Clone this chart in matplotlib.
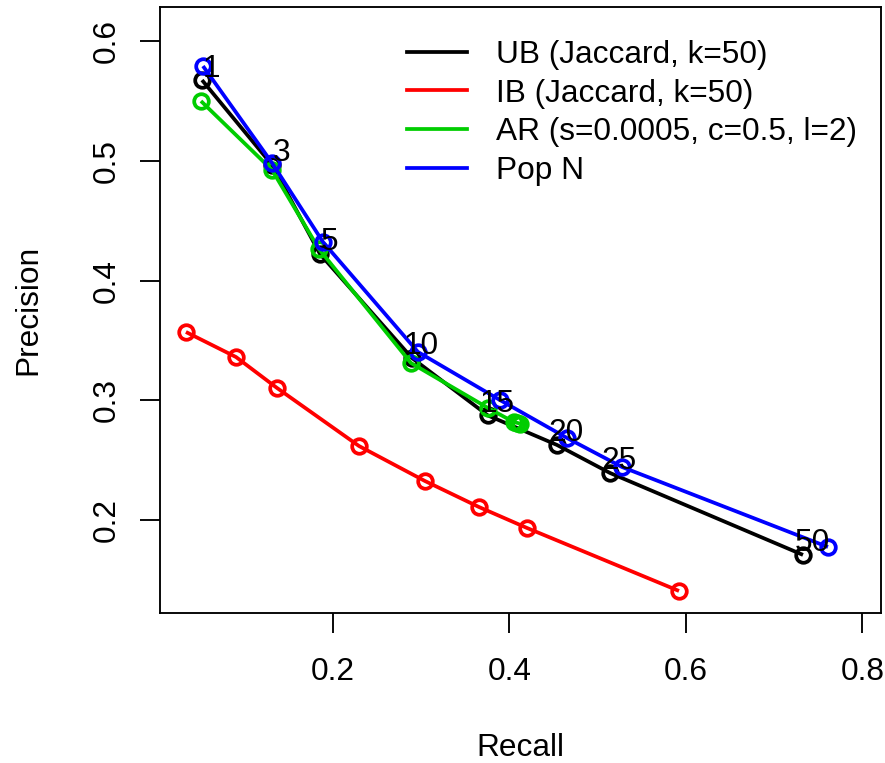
import matplotlib
matplotlib.use("Agg")
import matplotlib.pyplot as plt

plt.rcParams['font.family'] = ['Liberation Sans', 'DejaVu Sans']

# Data
cutoffs = ["1", "3", "5", "10", "15", "20", "25", "50"]

ub_recall = [0.0516, 0.131, 0.1853, 0.2895, 0.3756, 0.4538, 0.5139, 0.7326]
ub_prec = [0.5674, 0.4965, 0.4222, 0.3354, 0.2874, 0.2628, 0.2394, 0.1710]

ib_recall = [0.0334, 0.0901, 0.1365, 0.2295, 0.3042, 0.3654, 0.4198, 0.5921]
ib_prec = [0.3571, 0.3362, 0.3104, 0.2619, 0.2327, 0.2110, 0.1935, 0.1409]

ar_recall = [0.0504, 0.131, 0.1841, 0.2884, 0.3756, 0.405, 0.409, 0.412]
ar_prec = [0.5499, 0.4923, 0.4264, 0.3312, 0.2937, 0.2818, 0.2812, 0.2806]

pop_recall = [0.0527, 0.131, 0.1887, 0.2963, 0.3892, 0.4652, 0.5275, 0.7609]
pop_prec = [0.5791, 0.4982, 0.4322, 0.3404, 0.3003, 0.2686, 0.2444, 0.1776]

series_names = ["UB (Jaccard, k=50)", "IB (Jaccard, k=50)",
                "AR (s=0.0005, c=0.5, l=2)", "Pop N"]
series_colors = ["#000000", "#FF0000", "#00CD00", "#0000FF"]

xticks = [0.2, 0.4, 0.6, 0.8]
yticks = [0.2, 0.3, 0.4, 0.5, 0.6]

W, H = 885, 763
fig = plt.figure(figsize=(W / 100, H / 100), dpi=100)
ax = fig.add_axes([160 / W, 1 - 613 / H, (881 - 160) / W, (613 - 7) / H])

FS = 22.8
LW = 2.7
MS = 10.5

data = [(ub_recall, ub_prec), (ib_recall, ib_prec),
        (ar_recall, ar_prec), (pop_recall, pop_prec)]
handles = []
for (xs, ys), name, col in zip(data, series_names, series_colors):
    ax.plot(xs, ys, color=col, lw=LW, marker='o', ms=MS, mew=LW,
            mfc='none', mec=col, solid_capstyle='butt', zorder=3)
    h, = ax.plot([], [], color=col, lw=LW, label=name)
    handles.append(h)

for x, y, lab in zip(ub_recall, ub_prec, cutoffs):
    ax.annotate(lab, (x, y), xytext=(6.8, 8.3), textcoords='offset points',
                ha='center', va='center', fontsize=FS, color='black', zorder=5)

ax.set_xlim(0.0040, 0.821)
ax.set_ylim(0.1225, 0.6284)
ax.set_xticks(xticks)
ax.set_xticklabels([f"{v:.1f}" for v in xticks])
ax.set_yticks(yticks)
ax.set_yticklabels([f"{v:.1f}" for v in yticks], rotation=90, va='center')

for s in ax.spines.values():
    s.set_linewidth(1.35)
ax.tick_params(axis='both', direction='out', length=14.4, width=1.35,
               labelsize=FS)
ax.tick_params(axis='x', pad=17)
ax.tick_params(axis='y', pad=13)

fig.text(520.5 / W, 1 - 748 / H, "Recall", ha='center', va='center', fontsize=FS)
fig.text(28 / W, 1 - 310 / H, "Precision", ha='center', va='center',
         fontsize=FS, rotation=90)

leg = ax.legend(handles=handles, loc='upper left',
                bbox_to_anchor=(407 / W, 1 - 40 / H),
                bbox_transform=fig.transFigure, frameon=False,
                fontsize=FS, borderpad=0, borderaxespad=0,
                handlelength=1.9, handletextpad=0.9, labelspacing=0.27)

fig.savefig("out.png", dpi=100)
